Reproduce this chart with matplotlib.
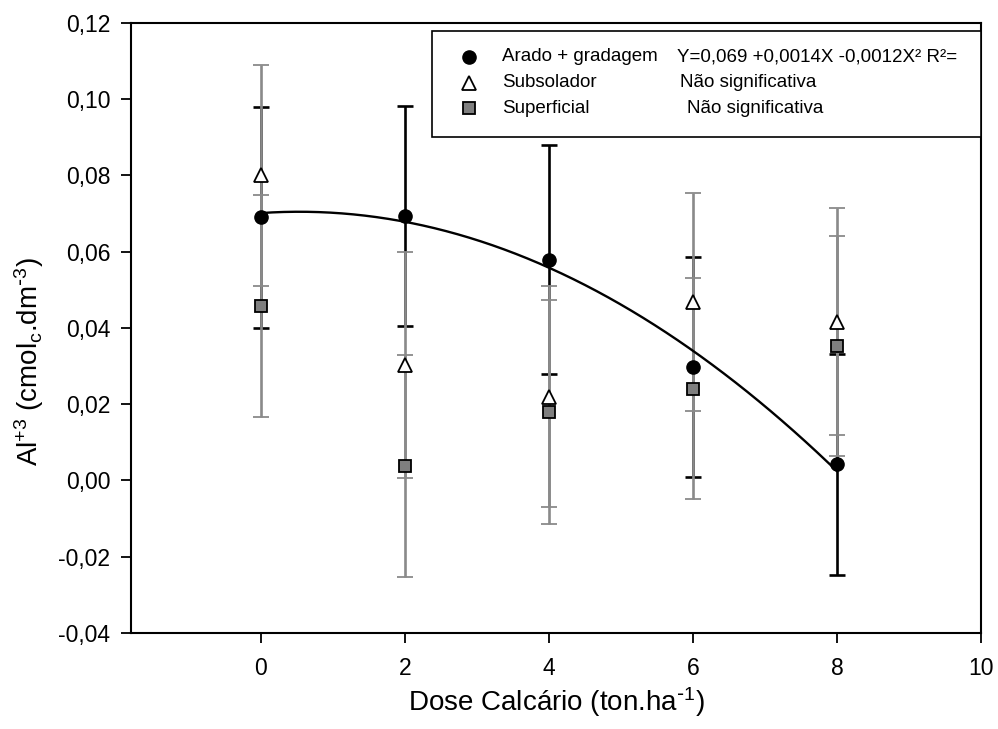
import matplotlib
matplotlib.use("Agg")
import matplotlib.pyplot as plt
from matplotlib.patches import Rectangle
import numpy as np

plt.rcParams['font.family'] = ['Liberation Sans', 'DejaVu Sans']
plt.rcParams['mathtext.default'] = 'regular'

# data
dose = [0, 2, 4, 6, 8]
arado = [0.0690, 0.0693, 0.0578, 0.0298, 0.0042]
arado_err = [0.0290, 0.0288, 0.0300, 0.0288, 0.0289]
subsolador = [0.0800, 0.0302, 0.0219, 0.0468, 0.0416]
subsolador_err = [0.0290, 0.0296, 0.0290, 0.0286, 0.0298]
superficial = [0.0457, 0.0038, 0.0180, 0.0240, 0.0353]
superficial_err = [0.0290, 0.0291, 0.0293, 0.0290, 0.0288]

series_names = ['Arado + gradagem', 'Subsolador', 'Superficial']
fit_texts = ['Y=0,069 +0,0014X -0,0012X² R²=', 'Não significativa', 'Não significativa']

x_ticks = [0, 2, 4, 6, 8, 10]
y_ticks = [-0.04, -0.02, 0.00, 0.02, 0.04, 0.06, 0.08, 0.10, 0.12]
y_labels = ['-0,04', '-0,02', '0,00', '0,02', '0,04', '0,06', '0,08', '0,10', '0,12']

gray = '#8a8a8a'

fig = plt.figure(figsize=(9.98, 7.29), dpi=100)
ax = fig.add_axes([0.1313, 0.1317, 0.8517, 0.8372])

ebkw = dict(elinewidth=1.9, capsize=6, capthick=1.9, linestyle='none')
ax.errorbar(dose, arado, yerr=arado_err, fmt='o', color='black', ecolor='black',
            ms=9.5, mec='black', **ebkw)
ax.errorbar(dose, subsolador, yerr=subsolador_err, fmt='^', color='white', ecolor=gray,
            ms=10, mec='black', mew=1.3, **ebkw)
ax.errorbar(dose, superficial, yerr=superficial_err, fmt='s', color='#7f7f7f', ecolor=gray,
            ms=8.5, mec='black', mew=1.3, **ebkw)

# quadratic regression for Arado + gradagem
coef = np.polyfit(dose, arado, 2)
xx = np.linspace(dose[0], dose[-1], 200)
ax.plot(xx, np.polyval(coef, xx), color='black', lw=1.7, zorder=5)

ax.set_xlim(-1.8, 10)
ax.set_ylim(-0.04, 0.12)
ax.set_xticks(x_ticks)
ax.set_yticks(y_ticks)
ax.set_yticklabels(y_labels)
ax.tick_params(axis='both', direction='out', length=7, width=1.3, labelsize=16.5)
ax.tick_params(axis='x', pad=10)
ax.tick_params(axis='y', pad=8)
for s in ax.spines.values():
    s.set_linewidth(1.5)

ax.set_xlabel(r'Dose Calcário (ton.ha$^{\text{-}1}$)', fontsize=20, labelpad=4)
ax.set_ylabel(r'Al$^{+3}$ (cmol$_c$.dm$^{\text{-}3}$)', fontsize=20)
ax.yaxis.set_label_coords(-0.10, 0.445)

# legend box drawn by hand to keep the two text columns
ax.add_patch(Rectangle((0.354, 0.813), 0.646, 0.174, transform=ax.transAxes,
                       facecolor='white', edgecolor='black', lw=1.2, zorder=10))
rows_y = [0.944, 0.9017, 0.860]
markers = [dict(marker='o', mfc='black', mec='black', ms=9.5),
           dict(marker='^', mfc='white', mec='black', ms=10, mew=1.3),
           dict(marker='s', mfc='#7f7f7f', mec='black', ms=8.5, mew=1.3)]
fit_x = [0.642, 0.646, 0.654]
for i in range(3):
    ax.plot([0.398], [rows_y[i]], transform=ax.transAxes, clip_on=False,
            linestyle='none', zorder=11, **markers[i])
    ax.text(0.4365, rows_y[i], series_names[i], transform=ax.transAxes,
            fontsize=13.5, va='center', ha='left', zorder=11)
    ax.text(fit_x[i], rows_y[i], fit_texts[i], transform=ax.transAxes,
            fontsize=13.5, va='center', ha='left', zorder=11)

fig.savefig('out.png', dpi=100)
